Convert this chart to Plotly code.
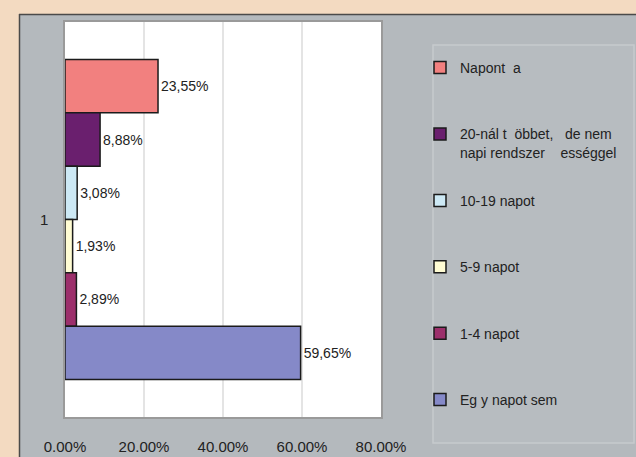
import plotly.graph_objects as go

# Data
category = ["1"]
series_names = [
    "Napont  a",
    "20-nál t  öbbet,   de nem<br>napi rendszer    ességgel",
    "10-19 napot",
    "5-9 napot",
    "1-4 napot",
    "Eg y napot sem",
]
series_values = [0.2355, 0.0888, 0.0308, 0.0193, 0.0289, 0.5965]
series_labels = ["23,55%", "8,88%", "3,08%", "1,93%", "2,89%", "59,65%"]
series_colors = ["#F2807F", "#6A1F6E", "#CDE9F5", "#FFFCD3", "#9C2F6B", "#8589C8"]
x_tick_vals = [0, 0.2, 0.4, 0.6, 0.8]
x_tick_text = ["0.00%", "20.00%", "40.00%", "60.00%", "80.00%"]

FONT = "Liberation Sans, Arial, sans-serif"
PEACH = "#F3DAC1"

W, H = 636, 457
L, R, T, B = 65, 255, 22, 40
pw, ph = W - L - R, H - T - B


def px(x):
    return (x - L) / pw


def py(y):
    return (H - B - y) / ph


fig = go.Figure()
for i, (name, val, lab, col) in enumerate(zip(series_names, series_values, series_labels, series_colors)):
    legend_name = name if "<br>" in name else name + "<br>&nbsp;"
    fig.add_trace(go.Bar(
        y=category, x=[val], orientation="h", name=legend_name,
        legendgroup=f"g{i}",
        marker=dict(color=col, line=dict(color="#1b1b1b", width=1.5)),
        text=[lab], textposition="outside", cliponaxis=False,
        textfont=dict(family=FONT, size=14, color="#222222"),
    ))

shapes = [
    # peach frame (top and left strips)
    dict(type="rect", xref="paper", yref="paper", x0=px(-5), x1=px(645), y0=py(14), y1=py(-5),
         fillcolor=PEACH, line=dict(width=0), layer="below"),
    dict(type="rect", xref="paper", yref="paper", x0=px(-5), x1=px(19), y0=py(465), y1=py(-5),
         fillcolor=PEACH, line=dict(width=0), layer="below"),
    dict(type="line", xref="paper", yref="paper", x0=px(19), x1=px(640), y0=py(14.5), y1=py(14.5),
         line=dict(color="#4a4a4a", width=1.5)),
    dict(type="line", xref="paper", yref="paper", x0=px(19.5), x1=px(19.5), y0=py(14), y1=py(460),
         line=dict(color="#4a4a4a", width=1.5)),
    # legend box
    dict(type="rect", xref="paper", yref="paper", x0=px(433), x1=px(634), y0=py(443), y1=py(45),
         fillcolor="#B7BCC0", line=dict(color="#C6CACD", width=1.5), layer="below"),
]

fig.update_layout(
    width=W, height=H,
    margin=dict(l=L, r=R, t=T, b=B, pad=0, autoexpand=False),
    paper_bgcolor="#B4B9BD",
    plot_bgcolor="#FFFFFF",
    barmode="group", bargap=0.19, bargroupgap=0,
    font=dict(family=FONT, size=14, color="#222222"),
    showlegend=True,
    legend=dict(
        x=px(420), y=py(52), xanchor="left", yanchor="top",
        bgcolor="rgba(0,0,0,0)", borderwidth=0,
        tracegroupgap=27, valign="top", maxheight=700,
        font=dict(family=FONT, size=14, color="#222222"),
    ),
    shapes=shapes,
    xaxis=dict(
        range=[0, 0.8], tickvals=x_tick_vals, ticktext=x_tick_text,
        showgrid=True, gridcolor="#E4E4E4", gridwidth=2, automargin=False,
        zeroline=False, showline=True, linecolor="#9A9A9A", linewidth=1.5, mirror=True,
        ticks="", ticklabelstandoff=15,
        tickfont=dict(family=FONT, size=15, color="#222222"),
    ),
    yaxis=dict(
        type="category", autorange="reversed", automargin=False,
        showgrid=False, zeroline=False, showline=True, linecolor="#9A9A9A", linewidth=1.5, mirror=True,
        ticks="", ticklabelstandoff=12,
        tickfont=dict(family=FONT, size=15, color="#222222"),
    ),
)

fig.write_html(
    "out.html",
    config={"displayModeBar": False},
    post_script="document.body.style.margin='0';document.body.style.background='%s';"
                "document.body.style.overflow='hidden';" % PEACH,
)
